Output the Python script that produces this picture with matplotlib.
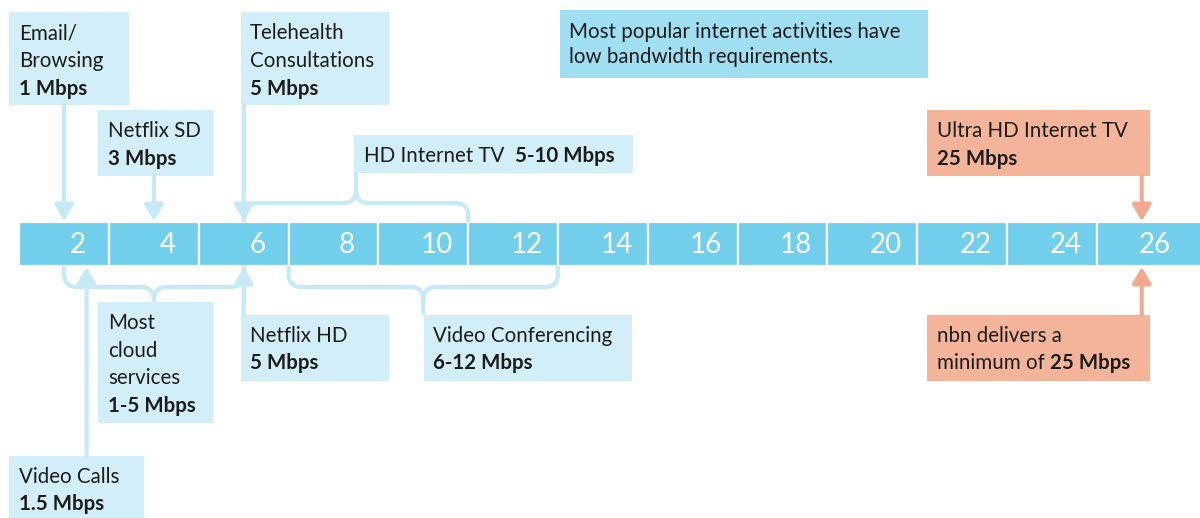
import matplotlib
matplotlib.use("Agg")
import matplotlib.pyplot as plt
from matplotlib.patches import Rectangle, PathPatch
from matplotlib.path import Path

plt.rcParams['font.family'] = ['Lato', 'DejaVu Sans']

# ---------------- data ----------------
tick_values = [2, 4, 6, 8, 10, 12, 14, 16, 18, 20, 22, 24, 26]
tick_labels = [str(v) for v in tick_values]

# single-value activities (label lines, bold rate, Mbps)
point_labels = ["Email/\nBrowsing", "Netflix SD", "Telehealth\nConsultations",
                "Ultra HD Internet TV", "Video Calls", "Netflix HD"]
point_rates = ["1 Mbps", "3 Mbps", "5 Mbps", "25 Mbps", "1.5 Mbps", "5 Mbps"]
point_values = [1, 3, 5, 25, 1.5, 5]

# range activities
range_labels = ["HD Internet TV", "Most\ncloud\nservices", "Video Conferencing"]
range_rates = ["5-10 Mbps", "1-5 Mbps", "6-12 Mbps"]
range_low = [5, 1, 6]
range_high = [10, 5, 12]

nbn_value = 25
note_text = "Most popular internet activities have\nlow bandwidth requirements."

# ---------------- style ----------------
BAND = "#71CFEB"
BOX = "#D2EEF8"
ARROW = "#C6E9F6"
NOTE = "#A0DFF2"
SALMON = "#F4B49A"
SALMON_ARROW = "#F2A98D"
TXT = "#1c1c1c"
FS = 14.8

W, H = 1200, 518
fig = plt.figure(figsize=(W / 100, H / 100), dpi=100)
# layout axes in pixel coords (boxes and texts)
lay = fig.add_axes([0, 0, 1, 1])
lay.set_xlim(0, W)
lay.set_ylim(H, 0)
lay.axis("off")
# data axes: x in Mbps, y in pixels
ax = fig.add_axes([0, 0, 1, 1])
ax.patch.set_alpha(0)
PX0, PXS = 19.2, 44.9  # pixel of 0 Mbps, pixels per Mbps
ax.set_xlim((0 - PX0) / PXS, (W - PX0) / PXS)
ax.set_ylim(H, 0)
ax.axis("off")
px = 1.0 / PXS  # one pixel in Mbps units

BAND_TOP, BAND_BOT = 222, 266

# band segments
lefts = [v - 2 for v in tick_values]
widths = [2] * (len(tick_values) - 1) + [ax.get_xlim()[1] - lefts[-1] + 0.2]
ax.bar(lefts, [BAND_BOT - BAND_TOP] * len(lefts), width=widths, bottom=BAND_TOP,
       align="edge", color=BAND, edgecolor="white", linewidth=1.6, zorder=2)
for v, lab in zip(tick_values, tick_labels):
    ax.text(v - 0.7, (BAND_TOP + BAND_BOT) / 2 + 1, lab, color="white",
            fontsize=20, ha="center", va="center", zorder=3)


def box(x0, y0, x1, y1, color=BOX):
    lay.add_patch(Rectangle((x0, y0), x1 - x0, y1 - y0, facecolor=color,
                            edgecolor="none", zorder=1))


def lines(x, y, normal, bold=None, spacing=28):
    rows = normal.split("\n") if normal else []
    for i, r in enumerate(rows):
        lay.text(x, y + i * spacing, r, fontsize=FS, color=TXT, va="baseline",
                 ha="left", zorder=4)
    if bold:
        lay.text(x, y + len(rows) * spacing, bold, fontsize=FS, color=TXT,
                 fontweight="bold", va="baseline", ha="left", zorder=4)


def inline(x, y, normal, bold):
    t = lay.text(x, y, normal, fontsize=FS, color=TXT, va="baseline", ha="left", zorder=4)
    lay.annotate(bold, xy=(1, 0), xycoords=t, va="bottom", ha="left", fontsize=FS,
                 fontweight="bold", color=TXT, zorder=4)


def arrow(v, y_from, y_to, color=ARROW):
    ax.annotate("", xy=(v, y_to), xytext=(v, y_from),
                arrowprops=dict(arrowstyle="-|>,head_length=0.6,head_width=0.35",
                                color=color, lw=3, shrinkA=0, shrinkB=0,
                                mutation_scale=16), zorder=3)


def bracket(lo, hi, y_end, y_mid, y_stem, r=13):
    """Curly bracket: ends at (lo,y_end),(hi,y_end), horizontal at y_mid, stem to y_stem."""
    c = (lo + hi) / 2
    s = 1 if y_stem > y_mid else -1
    rx = r * px
    for end, sign in ((lo, 1), (hi, -1)):
        verts = [(end, y_end), (end, y_mid - s * r), (end, y_mid), (end + sign * rx, y_mid),
                 (c - sign * rx, y_mid), (c, y_mid), (c, y_mid + s * r)]
        codes = [Path.MOVETO, Path.LINETO, Path.CURVE3, Path.CURVE3,
                 Path.LINETO, Path.CURVE3, Path.CURVE3]
        if sign == 1:
            verts.append((c, y_stem))
            codes.append(Path.LINETO)
        ax.add_patch(PathPatch(Path(verts, codes), fill=False, edgecolor=ARROW,
                               lw=3, capstyle="butt", joinstyle="round", zorder=3))


# ---------- top point activities ----------
# Email / Browsing
box(9, 12, 129, 105)
lines(19, 39, point_labels[0], point_rates[0])
arrow(point_values[0], 105, BAND_TOP - 1)
# Netflix SD
box(98, 110, 213, 176)
lines(108, 137, point_labels[1], point_rates[1])
arrow(point_values[1], 176, BAND_TOP - 1)
# Telehealth
box(241, 12, 389, 105)
lines(250, 39, point_labels[2], point_rates[2])
arrow(point_values[2], 105, BAND_TOP - 1)
# Ultra HD
box(927, 110, 1150, 176, SALMON)
lines(937, 137, point_labels[3], point_rates[3])
arrow(point_values[3], 176, BAND_TOP - 1, SALMON_ARROW)

# note
box(560, 10, 928, 78, NOTE)
lines(569, 38, note_text, None, spacing=25)

# HD Internet TV (range, above)
box(354, 135, 633, 173)
inline(364, 162, range_labels[0] + "  ", range_rates[0])
bracket(range_low[0], range_high[0], BAND_TOP, 203, 173)

# ---------- below ----------
# cloud services
box(98, 302, 213, 423)
lines(108, 329, range_labels[1], range_rates[1], spacing=27.7)
bracket(range_low[1], range_high[1], BAND_BOT, 287, 302)
# Video conferencing
box(424, 315, 632, 381)
lines(433, 342, range_labels[2], range_rates[2], spacing=27)
bracket(range_low[2], range_high[2], BAND_BOT, 287, 315)
# Netflix HD
box(241, 315, 389, 381)
lines(250, 342, point_labels[5], point_rates[5], spacing=27)
arrow(point_values[5], 315, BAND_BOT + 1)
# Video calls
box(9, 456, 144, 518)
lines(19, 483, point_labels[4], point_rates[4], spacing=27)
arrow(point_values[4], 456, BAND_BOT + 1)
# nbn
box(927, 315, 1150, 381, SALMON)
lines(937, 342, "nbn delivers a", None)
inline(937, 369, "minimum of ", "25 Mbps")
arrow(nbn_value, 315, BAND_BOT + 1, SALMON_ARROW)

fig.savefig("out.png", dpi=100)
